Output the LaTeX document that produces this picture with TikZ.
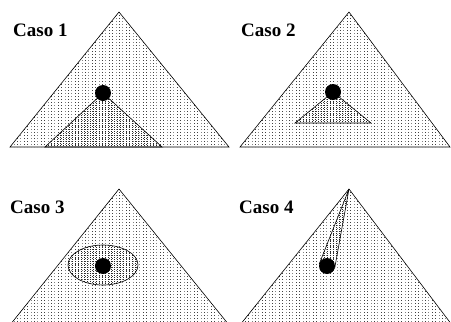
\documentclass[tikz,border=0pt]{standalone}
\usepackage{fontspec}
\setmainfont{Liberation Serif}
\usetikzlibrary{patterns}
\pgfdeclarepatternformonly{sparsedots}{\pgfqpoint{0pt}{0pt}}{\pgfqpoint{1pt}{1pt}}{\pgfqpoint{3.4pt}{3pt}}{%
  \pgfpathrectangle{\pgfqpoint{0pt}{0pt}}{\pgfqpoint{0.75pt}{0.85pt}}\pgfusepath{fill}}
\pgfdeclarepatternformonly{densedots}{\pgfqpoint{0pt}{0pt}}{\pgfqpoint{1pt}{2pt}}{\pgfqpoint{3pt}{2pt}}{%
  \pgfpathrectangle{\pgfqpoint{0pt}{0pt}}{\pgfqpoint{1pt}{1.4pt}}\pgfusepath{fill}}
\tikzset{
  bigtri/.style={draw=black, line width=0.6pt, pattern=sparsedots, pattern color=black!75},
  inner/.style={draw=black, line width=0.6pt, pattern=densedots, pattern color=black!85},
  ball/.style={circle, fill=black, inner sep=0pt, minimum size=16pt},
  caso/.style={anchor=base west, inner sep=0pt, font=\fontsize{19}{22}\selectfont\bfseries}
}
\begin{document}
\begin{tikzpicture}[x=1pt, y=-1pt]
\useasboundingbox (0,0) rectangle (451,322);
\begin{scope}
\clip (0,0) rectangle (451,322);
% Panel 1
\coordinate (a1) at (119,12);
\coordinate (l1) at (10,147);
\coordinate (r1) at (229,147);
\draw[bigtri] (l1) -- (a1) -- (r1) -- cycle;
\coordinate (d1) at (103,93);
\coordinate (il1) at (45,147);
\coordinate (ir1) at (162,147);
\draw[inner] (il1) -- (d1) -- (ir1) -- cycle;
\node[ball] (b1) at (d1) {};
\node[caso] (t1) at (13,36) {Caso 1};
% Panel 2
\coordinate (a2) at (349,12);
\coordinate (l2) at (240,147);
\coordinate (r2) at (450,147);
\draw[bigtri] (l2) -- (a2) -- (r2) -- cycle;
\coordinate (d2) at (333,92);
\coordinate (il2) at (295,123);
\coordinate (ir2) at (371,123);
\draw[inner] (il2) -- (d2) -- (ir2) -- cycle;
\node[ball] (b2) at (d2) {};
\node[caso] (t2) at (241,36) {Caso 2};
% Panel 3
\coordinate (a3) at (119,189);
\coordinate (l3) at (10,325);
\coordinate (r3) at (229,325);
\draw[bigtri] (l3) -- (a3) -- (r3) -- cycle;
\draw[inner] (103,265) ellipse [x radius=35, y radius=20];
\node[ball] (b3) at (103,266) {};
\node[caso] (t3) at (10,213) {Caso 3};
% Panel 4
\coordinate (a4) at (349,189);
\coordinate (l4) at (240,325);
\coordinate (r4) at (452,325);
\draw[bigtri] (l4) -- (a4) -- (r4) -- cycle;
\coordinate (d4) at (327,266);
\coordinate (p4) at (334.7,268.2);
\coordinate (q4) at (319.3,263.8);
\draw[inner] (a4) -- (p4) -- (q4) -- cycle;
\node[ball] (b4) at (d4) {};
\node[caso] (t4) at (239,213) {Caso 4};
\end{scope}
\end{tikzpicture}
\end{document}
